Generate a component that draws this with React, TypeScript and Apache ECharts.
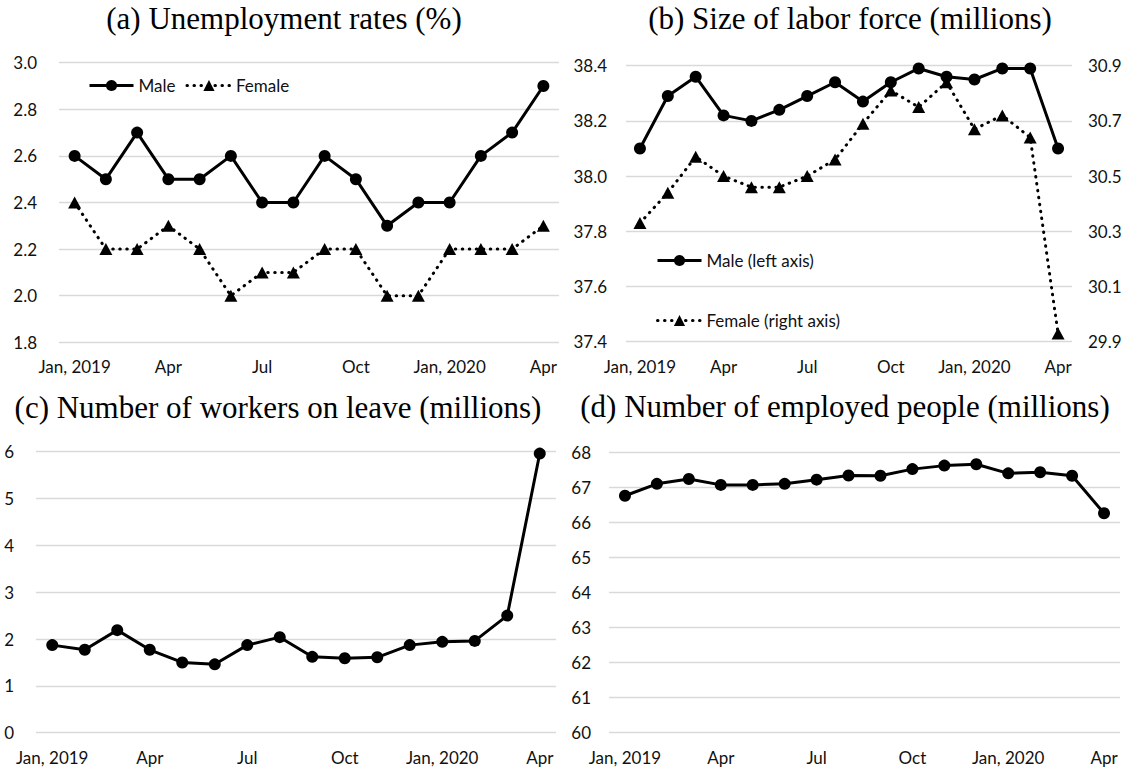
import React, { useEffect, useRef } from "react";
import * as echarts from "echarts";

// Monthly categories, January 2019 – April 2020
const months = [
  "Jan, 2019", "Feb", "Mar", "Apr", "May", "Jun", "Jul", "Aug",
  "Sep", "Oct", "Nov", "Dec", "Jan, 2020", "Feb", "Mar", "Apr",
];

// (a) Unemployment rates (%)
const unempMale = [2.6, 2.5, 2.7, 2.5, 2.5, 2.6, 2.4, 2.4, 2.6, 2.5, 2.3, 2.4, 2.4, 2.6, 2.7, 2.9];
const unempFemale = [2.4, 2.2, 2.2, 2.3, 2.2, 2.0, 2.1, 2.1, 2.2, 2.2, 2.0, 2.0, 2.2, 2.2, 2.2, 2.3];

// (b) Size of labor force (millions)
const laborMale = [38.1, 38.29, 38.36, 38.22, 38.2, 38.24, 38.29, 38.34, 38.27, 38.34, 38.39, 38.36, 38.35, 38.39, 38.39, 38.1];
const laborFemale = [30.33, 30.44, 30.57, 30.5, 30.46, 30.46, 30.5, 30.56, 30.69, 30.81, 30.75, 30.84, 30.67, 30.72, 30.64, 29.93];

// (c) Number of workers on leave (millions)
const onLeave = [1.87, 1.77, 2.19, 1.77, 1.5, 1.46, 1.87, 2.04, 1.62, 1.59, 1.61, 1.87, 1.94, 1.96, 2.5, 5.96];

// (d) Number of employed people (millions)
const employed = [66.76, 67.1, 67.24, 67.07, 67.07, 67.1, 67.22, 67.34, 67.33, 67.52, 67.62, 67.66, 67.4, 67.43, 67.33, 66.26];

const panelTitles = [
  "(a) Unemployment rates (%)",
  "(b) Size of labor force (millions)",
  "(c) Number of workers on leave (millions)",
  "(d) Number of employed people (millions)",
];

const LABEL_FONT = "Lato";
const TITLE_FONT = "'Liberation Serif'";
const TEXT_COLOR = "#111111";
const GRID_COLOR = "#d9d9d9";

function xAxis(gridIndex: number) {
  return {
    type: "category" as const,
    gridIndex,
    data: months,
    boundaryGap: true,
    axisLine: { show: false },
    axisTick: { show: false },
    splitLine: { show: false },
    axisLabel: {
      interval: 2,
      margin: 16,
      color: TEXT_COLOR,
      fontFamily: LABEL_FONT,
      fontSize: 17,
    },
  };
}

function yAxis(
  gridIndex: number,
  min: number,
  max: number,
  interval: number,
  decimals: number,
  margin: number,
  position: "left" | "right" = "left",
  showSplit = true
) {
  return {
    type: "value" as const,
    gridIndex,
    position,
    min,
    max,
    interval,
    axisLine: { show: false },
    axisTick: { show: false },
    splitLine: { show: showSplit, lineStyle: { color: GRID_COLOR, width: 1.3 } },
    axisLabel: {
      margin,
      color: TEXT_COLOR,
      fontFamily: LABEL_FONT,
      fontSize: 17,
      formatter: (v: number) => v.toFixed(decimals),
    },
  };
}

const solid = {
  type: "line" as const,
  symbol: "circle",
  symbolSize: 12,
  lineStyle: { color: "#000", width: 3 },
  itemStyle: { color: "#000" },
  emphasis: { disabled: true },
};

const dotted = {
  type: "line" as const,
  symbol: "triangle",
  symbolSize: [13, 12],
  lineStyle: { color: "#000", width: 3, type: [0.5, 6.5], cap: "round" },
  itemStyle: { color: "#000" },
  emphasis: { disabled: true },
};

const legendText = { color: TEXT_COLOR, fontFamily: LABEL_FONT, fontSize: 17 };

export default function App() {
  const ref = useRef<HTMLDivElement>(null);

  useEffect(() => {
    if (!ref.current) return;
    const chart = echarts.init(ref.current, undefined, { renderer: "svg" });

    const titlePos = [
      [284, 18],
      [850, 18],
      [278, 407],
      [845, 406],
    ];

    chart.setOption({
      animation: false,
      backgroundColor: "#ffffff",
      grid: [
        { left: 59, top: 62.7, width: 500, height: 279.6 },
        { left: 626, top: 65.7, width: 446, height: 276 },
        { left: 36, top: 451.7, width: 520, height: 281 },
        { left: 609, top: 452.3, width: 511, height: 280.4 },
      ],
      xAxis: [xAxis(0), xAxis(1), xAxis(2), xAxis(3)],
      yAxis: [
        yAxis(0, 1.8, 3.0, 0.2, 1, 22),
        yAxis(1, 37.4, 38.4, 0.2, 1, 19),
        yAxis(1, 29.9, 30.9, 0.2, 1, 16, "right", false),
        yAxis(2, 0, 6, 1, 0, 22),
        yAxis(3, 60, 68, 1, 0, 18),
      ],
      legend: [
        {
          data: ["Male", "Female"],
          left: 88,
          top: 77,
          padding: 0,
          itemWidth: 44,
          itemHeight: 14,
          itemGap: 10,
          selectedMode: false,
          lineStyle: { width: 3 },
          textStyle: legendText,
        },
        {
          data: ["Male (left axis)", "Female (right axis)"],
          orient: "vertical",
          left: 656,
          top: 252,
          padding: 0,
          itemWidth: 44,
          itemHeight: 14,
          itemGap: 43,
          selectedMode: false,
          lineStyle: { width: 3 },
          textStyle: legendText,
        },
      ],
      series: [
        { ...solid, name: "Male", xAxisIndex: 0, yAxisIndex: 0, data: unempMale, z: 3 },
        { ...dotted, name: "Female", xAxisIndex: 0, yAxisIndex: 0, data: unempFemale, z: 2 },
        { ...solid, name: "Male (left axis)", xAxisIndex: 1, yAxisIndex: 1, data: laborMale, z: 3 },
        { ...dotted, name: "Female (right axis)", xAxisIndex: 1, yAxisIndex: 2, data: laborFemale, z: 2 },
        { ...solid, name: "Workers on leave", xAxisIndex: 2, yAxisIndex: 3, data: onLeave },
        { ...solid, name: "Employed people", xAxisIndex: 3, yAxisIndex: 4, data: employed },
      ],
      graphic: {
        elements: panelTitles.map((text, i) => ({
          type: "text",
          x: titlePos[i][0],
          y: titlePos[i][1],
          silent: true,
          style: {
            text,
            fill: "#000",
            fontFamily: TITLE_FONT,
            fontSize: 31,
            align: "center",
            verticalAlign: "middle",
          },
        })),
      },
    });

    return () => chart.dispose();
  }, []);

  return (
    <div
      ref={ref}
      style={{ position: "absolute", left: 0, top: 0, width: 1128, height: 771 }}
    />
  );
}
